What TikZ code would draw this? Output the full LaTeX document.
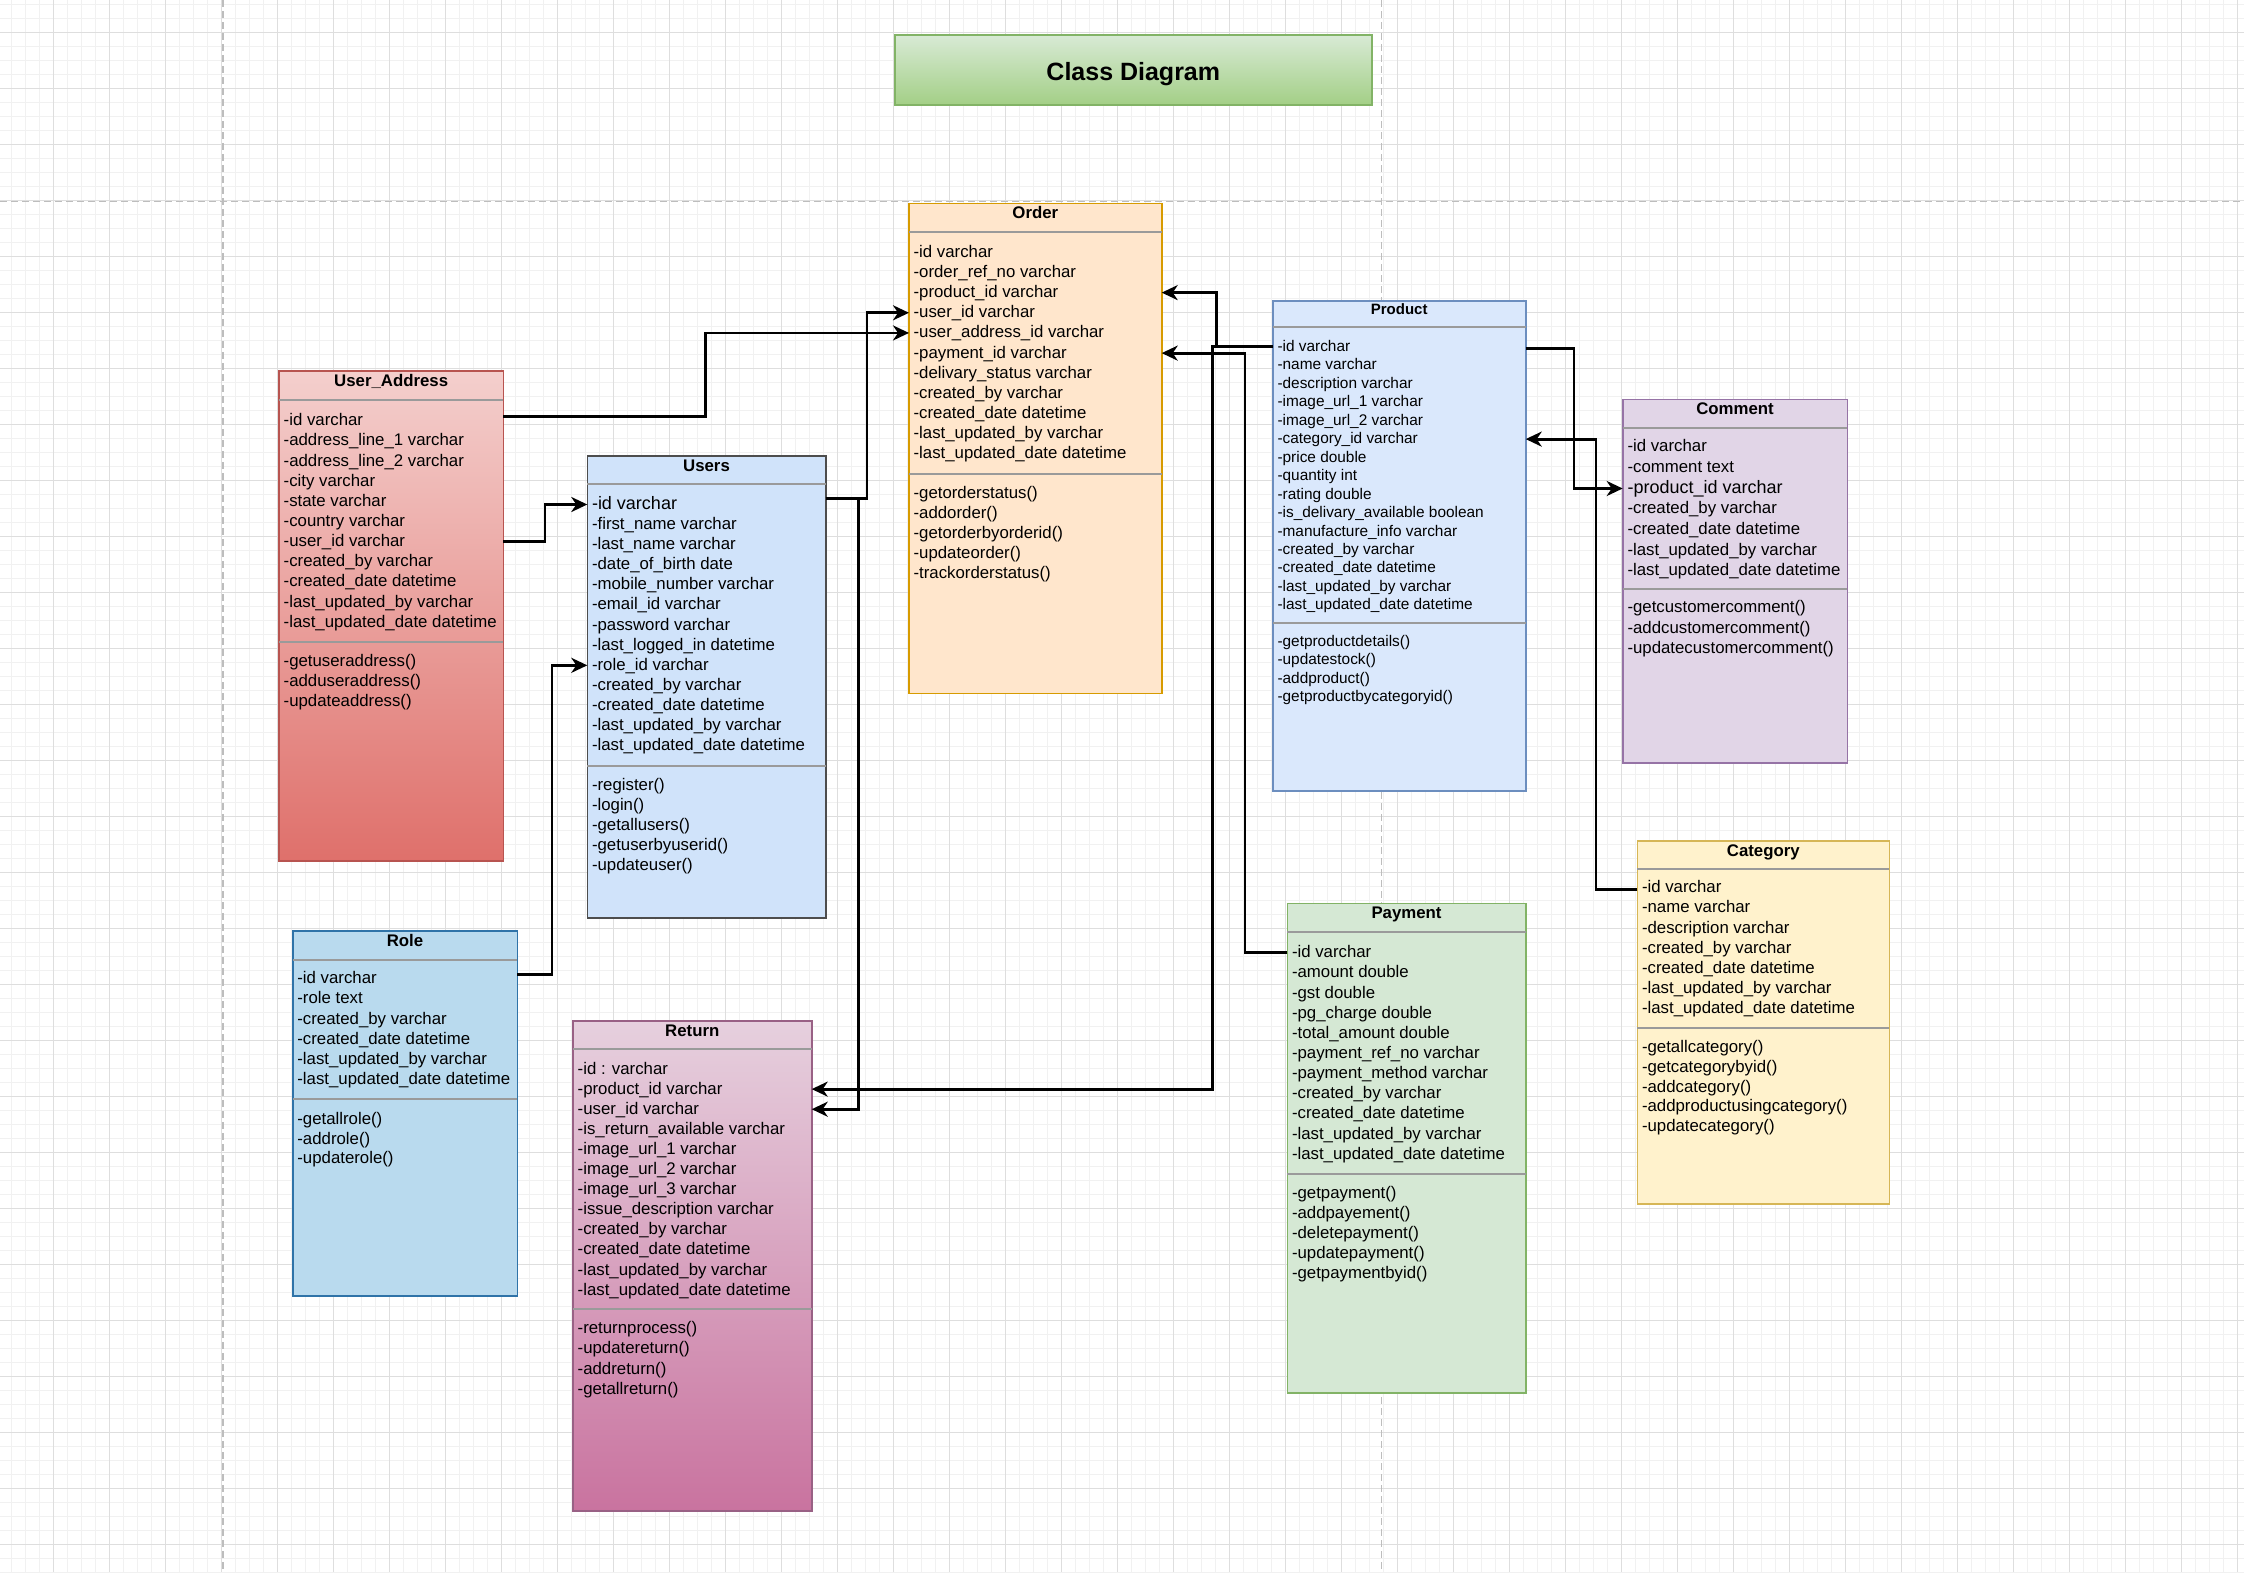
\documentclass[tikz,border=0pt]{standalone}
\usepackage{fontspec}
\setmainfont{Liberation Sans}
\usetikzlibrary{arrows.meta}

% palette
\definecolor{gridmajor}{HTML}{DEDEDE}
\definecolor{gridminor}{HTML}{F1F1F1}
\definecolor{pagebreak}{HTML}{BDBDBD}
\definecolor{sepgray}{HTML}{9A9A9A}
\definecolor{titleTop}{HTML}{D8EAD5}
\definecolor{titleBot}{HTML}{A3CF86}
\definecolor{titleLine}{HTML}{82B366}
\definecolor{uaTop}{HTML}{F4CFCD}
\definecolor{uaBot}{HTML}{DF706B}
\definecolor{uaLine}{HTML}{B85450}
\definecolor{usrFill}{HTML}{D0E3FA}
\definecolor{usrLine}{HTML}{4D4D4D}
\definecolor{ordFill}{HTML}{FFE6CC}
\definecolor{ordLine}{HTML}{D79B00}
\definecolor{prdFill}{HTML}{DAE8FC}
\definecolor{prdLine}{HTML}{6C8EBF}
\definecolor{cmtFill}{HTML}{E1D5E7}
\definecolor{cmtLine}{HTML}{9673A6}
\definecolor{roleFill}{HTML}{B9DAEE}
\definecolor{roleLine}{HTML}{2F73A8}
\definecolor{retTop}{HTML}{E6D0DE}
\definecolor{retBot}{HTML}{C9739F}
\definecolor{retLine}{HTML}{996185}
\definecolor{payFill}{HTML}{D5E8D4}
\definecolor{payLine}{HTML}{82B366}
\definecolor{catFill}{HTML}{FFF2CC}
\definecolor{catLine}{HTML}{D6B656}

\tikzset{
  gmin/.style={draw=gridminor, line width=1pt},
  gmaj/.style={draw=gridmajor, line width=1.2pt},
  pagebrk/.style={draw=pagebreak, line width=1.5pt, dash pattern=on 7pt off 4pt},
  classbox/.style={rectangle, inner sep=0pt, outer sep=0pt, line width=1.6pt, anchor=north west},
  ctitle/.style={anchor=base, inner sep=0pt, font=\bfseries\fontsize{16.8}{20}\selectfont},
  ctitlesm/.style={ctitle, font=\bfseries\fontsize{15}{18}\selectfont},
  attr/.style={anchor=base west, inner sep=0pt, text height=10pt, text depth=0pt, font=\fontsize{16.8}{20}\selectfont},
  attrsm/.style={attr, text height=9pt, font=\fontsize{15.4}{18}\selectfont},
  attrbig/.style={attr, font=\fontsize{18}{21}\selectfont},
  sepline/.style={draw=sepgray, line width=1.6pt},
  link/.style={draw=black, line width=2.8pt, -{Stealth[length=16pt,width=15pt,inset=5pt]}},
}

% class frame: name, x1, y1, x2, y2, first separator, second separator, colours
\newcommand\umlbox[8]{%
  \node[classbox,#8,minimum width={(#4-#2)*1pt},minimum height={(#5-#3)*1pt}] (#1) at (#2,#3) {};
  \draw[sepline] (#2,#6) -- (#4,#6);
  \draw[sepline] (#2,#7) -- (#4,#7);
}
% text rows: prefix, first index, style, x, first baseline, spacing, entries
\newcommand\rowlist[7]{%
  \foreach \t [count=\i from #2] in {#7}{%
    \node[#3] (#1\i) at (#4,{#5+(\i-#2)*#6}) {\t};}%
}

\begin{document}
\begin{tikzpicture}[x=1pt,y=-1pt]
\useasboundingbox (0,0) rectangle (2244,1572);
\fill[white] (0,0) rectangle (2244,1572);

% background grid
\foreach \i in {0,...,159} {\draw[gmin] ({11.3+14*\i},0) -- ({11.3+14*\i},1572);}
\foreach \i in {0,...,112} {\draw[gmin] (0,{4.3+14*\i}) -- (2244,{4.3+14*\i});}
\foreach \i in {0,...,39} {\draw[gmaj] ({53.3+56*\i},0) -- ({53.3+56*\i},1572);}
\foreach \i in {0,...,27} {\draw[gmaj] (0,{32.3+56*\i}) -- (2244,{32.3+56*\i});}

% page breaks
\draw[pagebrk] (223,0) -- (223,1572);
\draw[pagebrk] (1381.7,0) -- (1381.7,1572);
\draw[pagebrk] (0,201.7) -- (2244,201.7);

% heading
\node[classbox, top color=titleTop, bottom color=titleBot, draw=titleLine,
      minimum width=476.7pt, minimum height=70pt] (head) at (895,35) {};
\node[anchor=base, inner sep=0pt, font=\bfseries\fontsize{25}{30}\selectfont] (headtxt) at (1133.3,80) {Class Diagram};

% ---------- User_Address ----------
\umlbox{ua}{279}{371}{503.3}{861}{399.7}{642}{top color=uaTop, bottom color=uaBot, draw=uaLine}
\node[ctitle] (uaT) at (391.2,386.5) {User\_Address};
\rowlist{uaA}{1}{attr}{283.5}{425.7}{20.16}{-id varchar,-address\_line\_1 varchar,-address\_line\_2 varchar,-city varchar,-state varchar,-country varchar,-user\_id varchar,-created\_by varchar,-created\_date datetime,-last\_updated\_by varchar,-last\_updated\_date datetime}
\rowlist{uaM}{1}{attr}{283.5}{666.7}{19.8}{-getuseraddress(),-adduseraddress(),-updateaddress()}

% ---------- Users ----------
\umlbox{usr}{587.3}{455.7}{825.7}{917.7}{484}{766}{fill=usrFill, draw=usrLine}
\node[ctitle] (usrT) at (706.5,471.2) {Users};
\node[attrbig] (usrA1) at (591.8,509.5) {-id varchar};
\rowlist{usrA}{2}{attr}{591.8}{529.2}{20.16}{-first\_name varchar,-last\_name varchar,-date\_of\_birth date,-mobile\_number varchar,-email\_id varchar,-password varchar,-last\_logged\_in datetime,-role\_id varchar,-created\_by varchar,-created\_date datetime,-last\_updated\_by varchar,-last\_updated\_date datetime}
\rowlist{usrM}{1}{attr}{591.8}{790}{20.16}{-register(),-login(),-getallusers(),-getuserbyuserid(),-updateuser()}

% ---------- Order ----------
\umlbox{ord}{909}{203.3}{1161.7}{693.3}{231.7}{473.7}{fill=ordFill, draw=ordLine}
\node[ctitle] (ordT) at (1035.3,218.5) {Order};
\rowlist{ordA}{1}{attr}{913.4}{257.3}{20.16}{-id varchar,-order\_ref\_no varchar,-product\_id varchar,-user\_id varchar,-user\_address\_id varchar,-payment\_id varchar,-delivary\_status varchar,-created\_by varchar,-created\_date datetime,-last\_updated\_by varchar,-last\_updated\_date datetime}
\rowlist{ordM}{1}{attr}{913.4}{498.3}{20.16}{-getorderstatus(),-addorder(),-getorderbyorderid(),-updateorder(),-trackorderstatus()}

% ---------- Product ----------
\umlbox{prd}{1272.7}{301}{1525.7}{791}{326.7}{622.7}{fill=prdFill, draw=prdLine}
\node[ctitlesm] (prdT) at (1399.2,314) {Product};
\rowlist{prdA}{1}{attrsm}{1277.3}{351.2}{18.48}{-id varchar,-name varchar,-description varchar,-image\_url\_1 varchar,-image\_url\_2 varchar,-category\_id varchar,-price double,-quantity int,-rating double,-is\_delivary\_available boolean,-manufacture\_info varchar,-created\_by varchar,-created\_date datetime,-last\_updated\_by varchar,-last\_updated\_date datetime}
\rowlist{prdM}{1}{attrsm}{1277.3}{646.2}{18.48}{-getproductdetails(),-updatestock(),-addproduct(),-getproductbycategoryid()}

% ---------- Comment ----------
\umlbox{cmt}{1622.7}{399.3}{1847.3}{762.7}{427.7}{588.7}{fill=cmtFill, draw=cmtLine}
\node[ctitle] (cmtT) at (1735,414.8) {Comment};
\rowlist{cmtA}{1}{attr}{1627.3}{451.7}{20.67}{-id varchar,-comment text}
\node[attrbig] (cmtA3) at (1627.3,493.5) {-product\_id varchar};
\rowlist{cmtA}{4}{attr}{1627.3}{513.7}{20.67}{-created\_by varchar,-created\_date datetime,-last\_updated\_by varchar,-last\_updated\_date datetime}
\rowlist{cmtM}{1}{attr}{1627.3}{612.3}{20.7}{-getcustomercomment(),-addcustomercomment(),-updatecustomercomment()}

% ---------- Role ----------
\umlbox{role}{292.7}{931}{517.3}{1295.7}{959.7}{1099}{fill=roleFill, draw=roleLine}
\node[ctitle] (roleT) at (405,946.5) {Role};
\rowlist{roleA}{1}{attr}{297.2}{983.7}{20.16}{-id varchar,-role text,-created\_by varchar,-created\_date datetime,-last\_updated\_by varchar,-last\_updated\_date datetime}
\rowlist{roleM}{1}{attr}{297.2}{1124.3}{19.8}{-getallrole(),-addrole(),-updaterole()}

% ---------- Return ----------
\umlbox{ret}{573}{1021}{811.7}{1511}{1049}{1309}{top color=retTop, bottom color=retBot, draw=retLine}
\node[ctitle] (retT) at (692.3,1036.5) {Return};
\rowlist{retA}{1}{attr}{577.5}{1074}{20.1}{-id : varchar,-product\_id varchar,-user\_id varchar,-is\_return\_available varchar,-image\_url\_1 varchar,-image\_url\_2 varchar,-image\_url\_3 varchar,-issue\_description varchar,-created\_by varchar,-created\_date datetime,-last\_updated\_by varchar,-last\_updated\_date datetime}
\rowlist{retM}{1}{attr}{577.5}{1333.7}{20.16}{-returnprocess(),-updatereturn(),-addreturn(),-getallreturn()}

% ---------- Payment ----------
\umlbox{pay}{1287.3}{903.3}{1525.7}{1392.7}{931.7}{1174}{fill=payFill, draw=payLine}
\node[ctitle] (payT) at (1406.5,918.8) {Payment};
\rowlist{payA}{1}{attr}{1291.8}{957.7}{20.16}{-id varchar,-amount double,-gst double,-pg\_charge double,-total\_amount double,-payment\_ref\_no varchar,-payment\_method varchar,-created\_by varchar,-created\_date datetime,-last\_updated\_by varchar,-last\_updated\_date datetime}
\rowlist{payM}{1}{attr}{1291.8}{1198.3}{20.16}{-getpayment(),-addpayement(),-deletepayment(),-updatepayment(),-getpaymentbyid()}

% ---------- Category ----------
\umlbox{cat}{1637.3}{841}{1889.3}{1204}{869}{1027.7}{fill=catFill, draw=catLine}
\node[ctitle] (catT) at (1763.3,856.5) {Category};
\rowlist{catA}{1}{attr}{1641.8}{892.7}{20.16}{-id varchar,-name varchar,-description varchar,-created\_by varchar,-created\_date datetime,-last\_updated\_by varchar,-last\_updated\_date datetime}
\rowlist{catM}{1}{attr}{1641.8}{1052.3}{19.85}{-getallcategory(),-getcategorybyid(),-addcategory(),-addproductusingcategory(),-updatecategory()}

% ---------- associations ----------
\draw[link] ([yshift=4pt]ua.east |- uaA1.west) -| (705.5,0 |- ordA5.west) -- (ord.west |- ordA5.west);
\draw[link] (ua.east |- uaA7.west) -| (545,0 |- usrA1.west) -- (usr.west |- usrA1.west);
\draw[link] ([yshift=4.5pt]role.east |- roleA1.west) -| (552,0 |- usrA9.west) -- (usr.west |- usrA9.west);
\draw[link] ([yshift=6pt]usr.east |- usrA1.west) -| (867,0 |- ordA4.west) -- (ord.west |- ordA4.west);
\draw[link] ([yshift=6pt]usr.east |- usrA1.west) -| (858.6,0 |- retA3.west) -- (ret.east |- retA3.west);
\draw[link] (prd.west |- prdA1.west) -| (1216.7,0 |- ordA3.west) -- (ord.east |- ordA3.west);
\draw[link] (prd.west |- prdA1.west) -| (1212.7,0 |- retA2.west) -- (ret.east |- retA2.west);
\draw[link] (pay.west |- payA1.west) -| (1245,0 |- ordA6.west) -- (ord.east |- ordA6.west);
\draw[link] ([yshift=-2pt]prd.east |- prdA1.west) -| (1574,0 |- cmtA3.west) -- (cmt.west |- cmtA3.west);
\draw[link] ([yshift=-2pt]cat.west |- catA1.west) -| (1596,0 |- prdA6.west) -- (prd.east |- prdA6.west);
\end{tikzpicture}
\end{document}
